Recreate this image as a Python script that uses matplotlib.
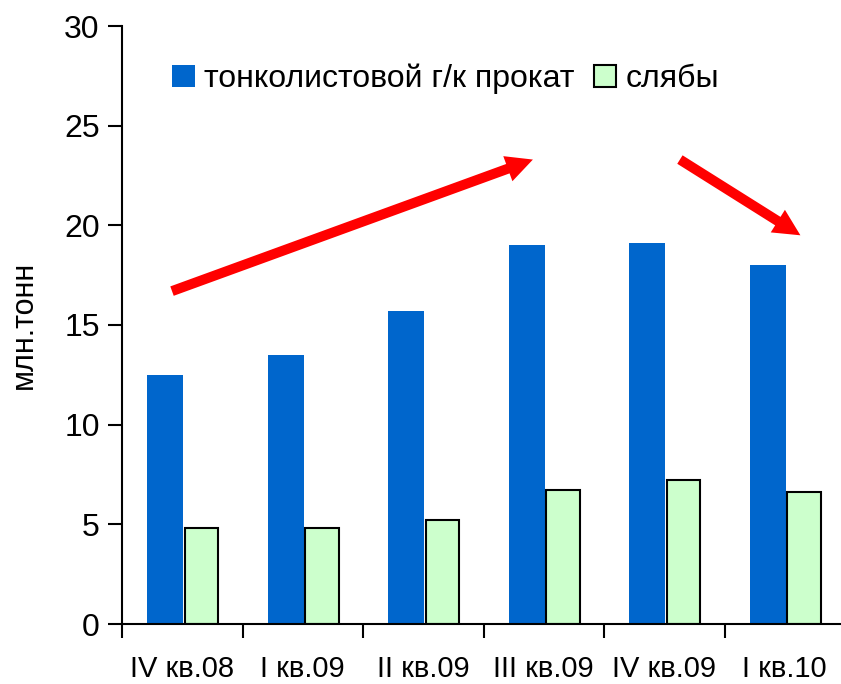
import numpy as np
import matplotlib
matplotlib.use("Agg")
import matplotlib.pyplot as plt

# ---- данные ----
quarters = ["IV кв.08", "I кв.09", "II кв.09", "III кв.09", "IV кв.09", "I кв.10"]
rolled = [12.5, 13.5, 15.7, 19.0, 19.1, 18.0]   # тонколистовой г/к прокат
slabs = [4.8, 4.8, 5.2, 6.7, 7.2, 6.6]          # слябы

plt.rcParams["font.family"] = ["Liberation Sans", "DejaVu Sans"]

fig = plt.figure(figsize=(8.41, 6.84), dpi=100)
ax = fig.add_axes([122 / 841, 60 / 684, 723 / 841, 598 / 684])

x = np.arange(len(quarters))
w = 0.3
ax.bar(x - w / 2 + 0.01, rolled, w, color="#0066cc", label="тонколистовой г/к прокат")
ax.bar(x + w / 2 + 0.01, slabs, w * 0.93, color="#ccffcc", edgecolor="black", lw=1.5,
       label="слябы")

ax.set_xlim(-0.5, len(quarters) - 0.5)
ax.set_ylim(0, 30)
ax.set_yticks([0, 5, 10, 15, 20, 25, 30])
ax.set_xticks(x)
ax.set_xticklabels(quarters, fontsize=21)
ax.set_xticks(np.arange(len(quarters) + 1) - 0.5, minor=True)
ax.tick_params(axis="x", which="major", length=0, pad=22)
ax.tick_params(axis="x", which="minor", length=10, width=1.5, direction="out")
ax.tick_params(axis="y", labelsize=23, length=10, width=1.5, direction="out", pad=6)
for s in ["top", "right"]:
    ax.spines[s].set_visible(False)
for s in ["left", "bottom"]:
    ax.spines[s].set_linewidth(1.5)
ax.set_ylabel("млн.тонн", fontsize=22, labelpad=18)

ax.legend(loc="upper left", bbox_to_anchor=(0.03, 0.985), ncol=2, frameon=False,
          fontsize=23, handlelength=0.7, handleheight=0.7, handletextpad=0.3,
          columnspacing=0.6)

# тренды
arrow = dict(arrowstyle="simple,head_width=1.6,head_length=1.6,tail_width=0.6",
             color="red", lw=0, shrinkA=0, shrinkB=0, mutation_scale=12)
ax.annotate("", xy=(2.91, 23.3), xytext=(-0.085, 16.7), arrowprops=arrow)
ax.annotate("", xy=(5.13, 19.5), xytext=(4.13, 23.3), arrowprops=arrow)

fig.savefig("out.png", dpi=100)
